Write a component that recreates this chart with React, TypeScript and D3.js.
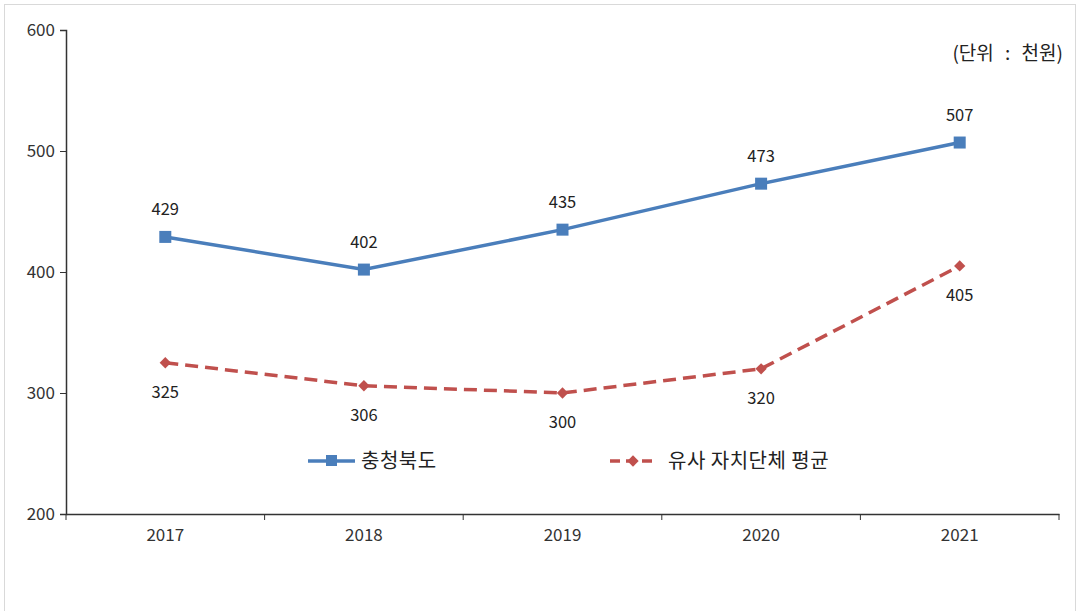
import React, { useRef, useEffect } from "react";
import * as d3 from "d3";

const years = ["2017", "2018", "2019", "2020", "2021"];
const chungbuk = [429, 402, 435, 473, 507];
const similarAvg = [325, 306, 300, 320, 405];
const yTicks = [200, 300, 400, 500, 600];
const seriesNames = ["충청북도", "유사 자치단체 평균"];
const unitLabel = "(단위 : 천원)";

const W = 1080;
const H = 611;
const FONT = "'Noto Sans CJK KR', 'Noto Sans', sans-serif";

export default function App() {
    const svgRef = useRef<SVGSVGElement | null>(null);

    useEffect(() => {
        if (!svgRef.current) return;
        const svg = d3.select(svgRef.current);
        svg.selectAll("*").remove();

        // outer frame
        svg.append("rect")
            .attr("x", 4.5).attr("y", 4.5)
            .attr("width", W - 9).attr("height", H)
            .attr("fill", "#fff")
            .attr("stroke", "#d9d9d9");

        const left = 66, right = 1059, top = 30, bottom = 514;

        const x = d3.scaleBand<string>().domain(years).range([left, right]);
        const y = d3.scaleLinear().domain([200, 600]).range([bottom, top]);
        const cx = (d: string) => (x(d) ?? 0) + x.bandwidth() / 2;

        // y axis
        const yAxis = svg.append("g").attr("transform", `translate(${left},0)`)
            .call(d3.axisLeft(y).tickValues(yTicks).tickSize(6).tickPadding(5).tickFormat(d3.format("d")));
        yAxis.attr("font-size", null).attr("font-family", null);
        yAxis.select(".domain").attr("stroke", "#333").attr("stroke-width", 1.5);
        yAxis.selectAll(".tick line").attr("stroke", "#333");
        yAxis.selectAll(".tick text").attr("font-family", FONT).attr("font-size", 17).attr("fill", "#333");

        // x axis
        const xAxis = svg.append("g").attr("transform", `translate(0,${bottom})`)
            .call(d3.axisBottom(x).tickSize(0).tickPadding(15));
        xAxis.attr("font-size", null).attr("font-family", null);
        xAxis.select(".domain").attr("stroke", "#333").attr("stroke-width", 1.5);
        xAxis.selectAll(".tick text").attr("font-family", FONT).attr("font-size", 17).attr("fill", "#333");
        const bounds = years.map((d) => x(d) ?? 0).concat([right]);
        xAxis.selectAll(".boundtick").data(bounds).enter().append("line")
            .attr("x1", (d) => d).attr("x2", (d) => d)
            .attr("y1", 0).attr("y2", 6)
            .attr("stroke", "#333");

        const line = d3.line<number>()
            .x((_, i) => cx(years[i]))
            .y((d) => y(d));

        const blue = "#4a7ebb";
        const red = "#c0504d";

        // blue series
        svg.append("path").datum(chungbuk)
            .attr("d", line).attr("fill", "none")
            .attr("stroke", blue).attr("stroke-width", 3.5);
        svg.selectAll(".sq").data(chungbuk).enter().append("rect")
            .attr("x", (_, i) => cx(years[i]) - 6)
            .attr("y", (d) => y(d) - 6)
            .attr("width", 12).attr("height", 12)
            .attr("fill", blue);
        svg.selectAll(".bl").data(chungbuk).enter().append("text")
            .attr("x", (_, i) => cx(years[i]))
            .attr("y", (d) => y(d) - 22)
            .attr("text-anchor", "middle")
            .attr("font-family", FONT).attr("font-size", 16.5).attr("fill", "#222")
            .text((d) => d);

        // red series
        svg.append("path").datum(similarAvg)
            .attr("d", line).attr("fill", "none")
            .attr("stroke", red).attr("stroke-width", 3.5)
            .attr("stroke-dasharray", "13,7");
        const diamond = d3.symbol().type(d3.symbolSquare).size(64);
        svg.selectAll(".dm").data(similarAvg).enter().append("path")
            .attr("d", diamond)
            .attr("transform", (d, i) => `translate(${cx(years[i])},${y(d)}) rotate(45)`)
            .attr("fill", red);
        svg.selectAll(".rl").data(similarAvg).enter().append("text")
            .attr("x", (_, i) => cx(years[i]))
            .attr("y", (d) => y(d) + 35)
            .attr("text-anchor", "middle")
            .attr("font-family", FONT).attr("font-size", 16.5).attr("fill", "#222")
            .text((d) => d);

        // legend
        const lg = svg.append("g");
        lg.append("line").attr("x1", 308).attr("x2", 355).attr("y1", 461).attr("y2", 461)
            .attr("stroke", blue).attr("stroke-width", 3.5);
        lg.append("rect").attr("x", 326).attr("y", 455).attr("width", 11).attr("height", 11).attr("fill", blue);
        lg.append("text").attr("x", 361).attr("y", 468)
            .attr("font-family", FONT).attr("font-size", 20).attr("fill", "#222")
            .attr("letter-spacing", 0.5)
            .text(seriesNames[0]);
        lg.append("line").attr("x1", 610).attr("x2", 657).attr("y1", 461).attr("y2", 461)
            .attr("stroke", red).attr("stroke-width", 3.5).attr("stroke-dasharray", "10,6");
        lg.append("path").attr("d", diamond).attr("transform", "translate(633,461) rotate(45)").attr("fill", red);
        lg.append("text").attr("x", 668).attr("y", 468)
            .attr("font-family", FONT).attr("font-size", 20).attr("fill", "#222")
            .attr("letter-spacing", 0.5)
            .text(seriesNames[1]);

        // unit label
        svg.append("text").attr("x", 1063).attr("y", 60)
            .attr("text-anchor", "end")
            .attr("font-family", FONT).attr("font-size", 19).attr("fill", "#222")
            .attr("word-spacing", 7)
            .text(unitLabel);
    }, []);

    return (
        <div style={{ position: "fixed", left: 0, top: 0 }}>
            <svg ref={svgRef} width={W} height={H} style={{ display: "block", background: "#fff" }} />
        </div>
    );
}
